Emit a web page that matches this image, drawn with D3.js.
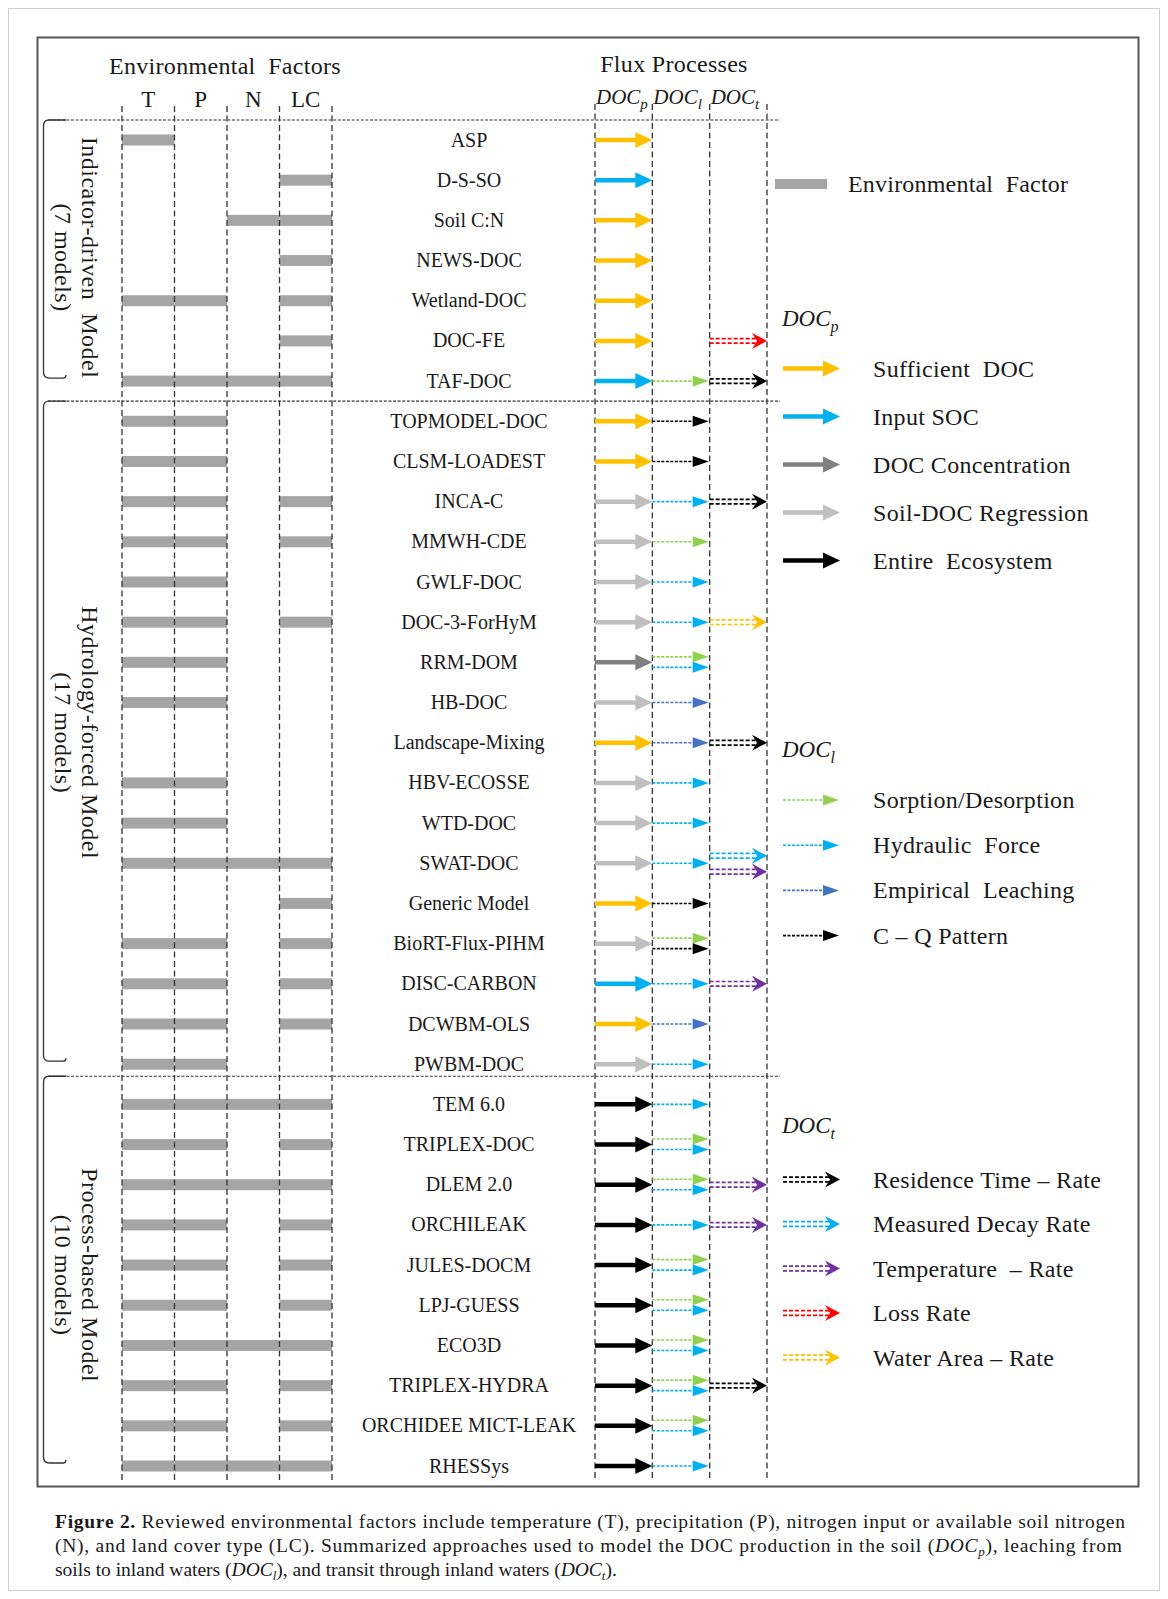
<!DOCTYPE html>
<html><head><meta charset="utf-8">
<script src="https://cdn.jsdelivr.net/npm/d3@7"></script>
<style>
html,body{margin:0;padding:0;background:#fff;overflow:hidden;}
svg{display:block;}
svg text{font-family:"Liberation Serif","Times New Roman",serif;fill:#1a1a1a;white-space:pre;}
</style></head><body>
<svg id="chart" width="1168" height="1599"></svg>
<script>
// ---------------- DATA ----------------
const factors = ["T","P","N","LC"];
const fluxCols = ["p","l","t"];
const groups = [
  {label:"Indicator-driven  Model", sub:"(7 models)", n:7},
  {label:"Hydrology-forced Model", sub:"(17 models)", n:17},
  {label:"Process-based Model", sub:"(10 models)", n:10}
];
const models = ["ASP","D-S-SO","Soil C:N","NEWS-DOC","Wetland-DOC","DOC-FE","TAF-DOC",
  "TOPMODEL-DOC","CLSM-LOADEST","INCA-C","MMWH-CDE","GWLF-DOC","DOC-3-ForHyM","RRM-DOM","HB-DOC",
  "Landscape-Mixing","HBV-ECOSSE","WTD-DOC","SWAT-DOC","Generic Model","BioRT-Flux-PIHM","DISC-CARBON",
  "DCWBM-OLS","PWBM-DOC",
  "TEM 6.0","TRIPLEX-DOC","DLEM 2.0","ORCHILEAK","JULES-DOCM","LPJ-GUESS","ECO3D","TRIPLEX-HYDRA",
  "ORCHIDEE MICT-LEAK","RHESSys"];
const envFactors = [
  ["T"],["LC"],["N","LC"],["LC"],["T","P","LC"],["LC"],["T","P","N","LC"],
  ["T","P"],["T","P"],["T","P","LC"],["T","P","LC"],["T","P"],["T","P","LC"],["T","P"],["T","P"],
  [],["T","P"],["T","P"],["T","P","N","LC"],["LC"],["T","P","LC"],["T","P","LC"],["T","P","LC"],["T","P"],
  ["T","P","N","LC"],["T","P","LC"],["T","P","N","LC"],["T","P","LC"],["T","P","LC"],["T","P","LC"],
  ["T","P","N","LC"],["T","P","LC"],["T","P","LC"],["T","P","N","LC"]];
const docP = ["SUF","SOC","SUF","SUF","SUF","SUF","SOC",
  "SUF","SUF","REG","REG","REG","REG","CON","REG","SUF","REG","REG","REG","SUF","REG","SOC","SUF","REG",
  "ENT","ENT","ENT","ENT","ENT","ENT","ENT","ENT","ENT","ENT"];
const docL = [[],[],[],[],[],[],["SORP"],
  ["CQ"],["CQ"],["HYD"],["SORP"],["HYD"],["HYD"],["SORP","HYD"],["EMP"],["EMP"],["HYD"],["HYD"],["HYD"],
  ["CQ"],["SORP","CQ"],["HYD"],["EMP"],["HYD"],
  ["HYD"],["SORP","HYD"],["SORP","HYD"],["HYD"],["SORP","HYD"],["SORP","HYD"],["SORP","HYD"],
  ["SORP","HYD"],["SORP","HYD"],["HYD"]];
const docT = [[],[],[],[],[],["LOSS"],["RES"],
  [],[],["RES"],[],[],["WATER"],[],[],["RES"],[],[],["MEAS","TEMP"],[],[],["TEMP"],[],[],
  [],[],["TEMP"],["TEMP"],[],[],[],["RES"],[],[]];
const pTypes = [
  {key:"SUF", label:"Sufficient  DOC", color:"#FFC000"},
  {key:"SOC", label:"Input SOC", color:"#00B0F0"},
  {key:"CON", label:"DOC Concentration", color:"#808080"},
  {key:"REG", label:"Soil-DOC Regression", color:"#BFBFBF"},
  {key:"ENT", label:"Entire  Ecosystem", color:"#000000"}];
const lTypes = [
  {key:"SORP", label:"Sorption/Desorption", color:"#92D050"},
  {key:"HYD", label:"Hydraulic  Force", color:"#00B0F0"},
  {key:"EMP", label:"Empirical  Leaching", color:"#4472C4"},
  {key:"CQ", label:"C \u2013 Q Pattern", color:"#000000"}];
const tTypes = [
  {key:"RES", label:"Residence Time \u2013 Rate", color:"#000000"},
  {key:"MEAS", label:"Measured Decay Rate", color:"#00B0F0"},
  {key:"TEMP", label:"Temperature  \u2013 Rate", color:"#7030A0"},
  {key:"LOSS", label:"Loss Rate", color:"#FF0000"},
  {key:"WATER", label:"Water Area \u2013 Rate", color:"#FFC000"}];

// ---------------- LAYOUT ----------------
const svg = d3.select("#chart");
const y = d3.scalePoint().domain(models).range([140, 1466]);
const step = y.step();
const xEnv = d3.scaleBand().domain(factors).range([122, 332]);
const xFlux = d3.scaleBand().domain(fluxCols).range([595, 767]);
const colorOf = {};
[...pTypes, ...lTypes, ...tTypes].forEach(d => colorOf[d.key] = d.color);

// page frame and figure box
svg.append("rect").attr("x",8.5).attr("y",8.5).attr("width",1151).attr("height",1582)
  .attr("fill","none").attr("stroke","#cfcfcf").attr("stroke-width",1);
svg.append("rect").attr("x",37.5).attr("y",37.5).attr("width",1101).attr("height",1449)
  .attr("fill","none").attr("stroke","#555").attr("stroke-width",2);

// headers
svg.append("text").attr("x",225).attr("y",74).attr("text-anchor","middle")
  .style("font-size","24px").style("letter-spacing","0.3px").text("Environmental  Factors");
svg.append("text").attr("x",674).attr("y",72).attr("text-anchor","middle")
  .style("font-size","24px").style("letter-spacing","0.3px").text("Flux Processes");
svg.selectAll(".fac").data(factors).join("text")
  .attr("x", d => xEnv(d) + xEnv.bandwidth()/2).attr("y",107).attr("text-anchor","middle")
  .style("font-size","23px").text(d => d);

function docLabel(sel, sub, size, subSize){
  sel.style("font-style","italic").style("font-size", size+"px");
  sel.append("tspan").text("DOC");
  sel.append("tspan").attr("dy", size*0.25).style("font-size", subSize+"px").text(sub);
}
fluxCols.forEach(c => {
  const t = svg.append("text").attr("x", xFlux(c)+1).attr("y",104);
  docLabel(t, c, 21, 15);
});

// bars
const barG = svg.append("g");
models.forEach((m,i) => {
  barG.selectAll(null).data(envFactors[i]).join("rect")
    .attr("x", f => xEnv(f)).attr("width", xEnv.bandwidth())
    .attr("y", y(m) - 5.5).attr("height", 11).attr("fill","#a5a5a5");
});

// vertical dashed column lines
const envBounds = factors.map(f => xEnv(f)).concat([xEnv.range()[1]]);
svg.selectAll(".vl").data(envBounds).join("line")
  .attr("x1", d=>d).attr("x2", d=>d).attr("y1",106).attr("y2",1480)
  .attr("stroke","#333").attr("stroke-width",1.3).attr("stroke-dasharray","6,3.5");
const fluxBounds = fluxCols.map(f => xFlux(f)).concat([xFlux.range()[1]]);
svg.selectAll(".fl").data(fluxBounds).join("line")
  .attr("x1", d=>d).attr("x2", d=>d).attr("y1",104).attr("y2",1480)
  .attr("stroke","#333").attr("stroke-width",1.3).attr("stroke-dasharray","6,3.5");

// horizontal separators
let start = 0;
const sepYs = [120];
groups.forEach((g,gi) => {
  const last = models[start+g.n-1];
  if (gi < groups.length-1) {
    const frac = gi === 0 ? 0.5 : 0.3;
    sepYs.push(y(last) + step*frac);
  }
  start += g.n;
});
svg.selectAll(".hs").data(sepYs).join("line")
  .attr("x1",48).attr("x2",780).attr("y1",d=>d).attr("y2",d=>d)
  .attr("stroke","#333").attr("stroke-width",1.2).attr("stroke-dasharray","3,1.6");

// brackets and group labels
start = 0;
groups.forEach((g,gi) => {
  const top = sepYs[gi];
  const lastY = y(models[start+g.n-1]);
  const bottom = lastY - 3;
  const bx = 43.5;
  svg.append("path")
    .attr("d", `M66,${top} L49,${top} Q${bx},${top} ${bx},${top+6} L${bx},${bottom-6} Q${bx},${bottom} ${bx+6},${bottom} L63,${bottom} Q66,${bottom} 66,${bottom-3}`)
    .attr("fill","none").attr("stroke","#333").attr("stroke-width",1.3);
  const cy = (y(models[start]) + lastY)/2 - (gi === 0 ? 3 : 10);
  svg.append("text").attr("transform",`translate(82,${cy}) rotate(90)`).attr("text-anchor","middle")
    .style("font-size","24px").style("letter-spacing","0.5px").text(g.label);
  svg.append("text").attr("transform",`translate(55,${cy}) rotate(90)`).attr("text-anchor","middle")
    .style("font-size","24px").style("letter-spacing","0.5px").text(g.sub);
  start += g.n;
});

// model names
svg.selectAll(".mn").data(models).join("text")
  .attr("x",469).attr("y", d => y(d)+6.5).attr("text-anchor","middle")
  .style("font-size","20px").text(d => d);

// arrows
function arrowP(g, x0, x1, yy, color){
  g.append("line").attr("x1",x0).attr("x2",x1-14).attr("y1",yy).attr("y2",yy)
    .attr("stroke",color).attr("stroke-width",4.5);
  g.append("path").attr("d",`M${x1-17},${yy-8}L${x1},${yy}L${x1-17},${yy+8}Z`).attr("fill",color);
}
function arrowL(g, x0, x1, yy, color){
  g.append("line").attr("x1",x0).attr("x2",x1-14).attr("y1",yy).attr("y2",yy)
    .attr("stroke",color).attr("stroke-width",1.6).attr("stroke-dasharray","3,1.5");
  g.append("path").attr("d",`M${x1-17},${yy-5.5}L${x1-1},${yy}L${x1-17},${yy+5.5}Z`).attr("fill",color);
}
function arrowT(g, x0, x1, yy, color){
  [-2.3, 2.3].forEach(o => g.append("line").attr("x1",x0).attr("x2",x1-9).attr("y1",yy+o).attr("y2",yy+o)
    .attr("stroke",color).attr("stroke-width",1.7).attr("stroke-dasharray","4,2"));
  g.append("path").attr("d",`M${x1-15},${yy-8}L${x1},${yy}L${x1-15},${yy+8}L${x1-10},${yy}Z`).attr("fill",color);
}
const arrG = svg.append("g");
const pX0 = xFlux("p"), pX1 = pX0 + xFlux.bandwidth();
const lX0 = xFlux("l"), lX1 = lX0 + xFlux.bandwidth();
const tX0 = xFlux("t"), tX1 = tX0 + xFlux.bandwidth();
models.forEach((m,i) => {
  const yy = y(m);
  arrowP(arrG, pX0, pX1, yy, colorOf[docP[i]]);
  const lOff = docL[i].length === 2 ? [-5.5, 5] : [0];
  docL[i].forEach((k,j) => arrowL(arrG, lX0, lX1, yy + lOff[j], colorOf[k]));
  const tOff = docT[i].length === 2 ? [-7.5, 8.5] : [0];
  docT[i].forEach((k,j) => arrowT(arrG, tX0, tX1, yy + tOff[j], colorOf[k]));
});

// legend
const LG = svg.append("g");
const lgA0 = 783, lgA1 = 840, lgTx = 873;
LG.append("rect").attr("x",775).attr("y",179).attr("width",52).attr("height",10).attr("fill","#a5a5a5");
LG.append("text").attr("x",848).attr("y",192).style("font-size","24px").style("letter-spacing","0.2px")
  .text("Environmental  Factor");
function legendBlock(title, types, titleY, firstY, dy, fn){
  const t = LG.append("text").attr("x",782).attr("y",titleY);
  docLabel(t, title, 23, 16);
  types.forEach((d,i) => {
    const yy = firstY + i*dy;
    fn(LG, lgA0, lgA1, yy, d.color);
    LG.append("text").attr("x",lgTx).attr("y",yy+8).style("font-size","24px")
      .style("letter-spacing","0.3px").text(d.label);
  });
}
legendBlock("p", pTypes, 326, 368.5, 48, arrowP);
legendBlock("l", lTypes, 757, 800, 45.2, arrowL);
legendBlock("t", tTypes, 1133, 1179.5, 44.5, arrowT);

// caption
const cap = svg.append("g").style("font-size","19.5px");
const c1 = cap.append("text").attr("x",55).attr("y",1528).attr("textLength",1070).attr("lengthAdjust","spacing");
c1.append("tspan").style("font-weight","bold").text("Figure 2.");
c1.append("tspan").text(" Reviewed environmental factors include temperature (T), precipitation (P), nitrogen input or available soil nitrogen");
const c2 = cap.append("text").attr("x",55).attr("y",1552).attr("textLength",1067).attr("lengthAdjust","spacing");
c2.append("tspan").text("(N), and land cover type (LC). Summarized approaches used to model the DOC production in the soil (");
c2.append("tspan").style("font-style","italic").text("DOC");
c2.append("tspan").style("font-style","italic").style("font-size","13px").attr("dy",4).text("p");
c2.append("tspan").attr("dy",-4).text("), leaching from");
const c3 = cap.append("text").attr("x",55).attr("y",1576);
c3.append("tspan").text("soils to inland waters (");
c3.append("tspan").style("font-style","italic").text("DOC");
c3.append("tspan").style("font-style","italic").style("font-size","13px").attr("dy",4).text("l");
c3.append("tspan").attr("dy",-4).text("), and transit through inland waters (");
c3.append("tspan").style("font-style","italic").text("DOC");
c3.append("tspan").style("font-style","italic").style("font-size","13px").attr("dy",4).text("t");
c3.append("tspan").attr("dy",-4).text(").");
</script>
</body></html>
